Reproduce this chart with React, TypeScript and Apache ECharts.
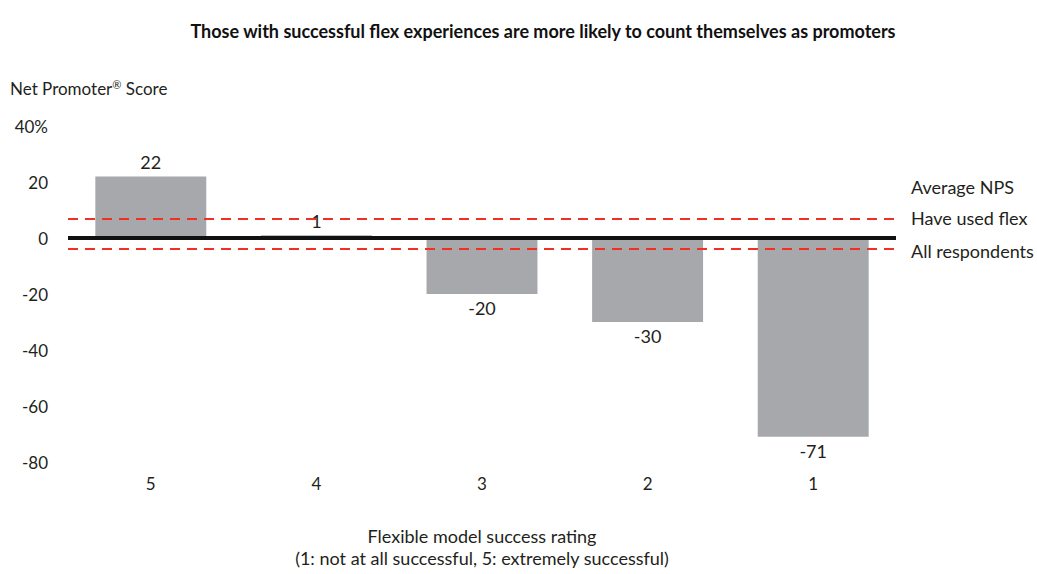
import React, { useEffect, useRef } from "react";
import * as echarts from "echarts";

const categories = ["5", "4", "3", "2", "1"];
const npsValues = [22, 1, -20, -30, -71];
const refLines = [
  { name: "Have used flex", value: 7 },
  { name: "All respondents", value: -4 },
];
const rightLabels = ["Average NPS", "Have used flex", "All respondents"];
const yTicks = { min: -80, max: 40, interval: 20 };

const FONT = "Lato, 'Open Sans', sans-serif";
const TEXT = "#231f20";

export default function App() {
  const ref = useRef<HTMLDivElement>(null);
  useEffect(() => {
    if (!ref.current) return;
    const chart = echarts.init(ref.current, null, { renderer: "svg" });
    chart.setOption({
      animation: false,
      textStyle: { fontFamily: FONT, color: TEXT },
      title: {
        text: "Those with successful flex experiences are more likely to count themselves as promoters",
        left: 538,
        textAlign: "center",
        top: 17,
        textStyle: { fontFamily: FONT, fontWeight: "bold", fontSize: 18, color: "#111" },
      },
      grid: { left: 68, right: 141, top: 126, bottom: 104 },
      xAxis: {
        type: "category",
        data: categories,
        axisLine: { show: false },
        axisTick: { show: false },
        axisLabel: { fontSize: 17, color: TEXT, margin: 13, fontFamily: FONT },
        name: "Flexible model success rating\n(1: not at all successful, 5: extremely successful)",
        nameLocation: "middle",
        nameGap: 63,
        nameTextStyle: { fontSize: 18, color: TEXT, lineHeight: 22, fontFamily: FONT },
      },
      yAxis: {
        type: "value",
        min: yTicks.min,
        max: yTicks.max,
        interval: yTicks.interval,
        splitLine: { show: false },
        axisLine: { show: false },
        axisTick: { show: false },
        axisLabel: {
          fontSize: 17,
          color: TEXT,
          margin: 20,
          fontFamily: FONT,
          formatter: (v: number) => (v === 40 ? "40%" : String(v)),
        },
      },
      graphic: [
        {
          type: "text",
          x: 10,
          y: 88,
          style: {
            text: "Net Promoter{sup|®} Score",
            fontSize: 17,
            fill: TEXT,
            fontFamily: FONT,
            verticalAlign: "middle",
            rich: {
              sup: { fontSize: 11, verticalAlign: "top", padding: [0, 0, 8, 0], fontFamily: FONT, fill: TEXT },
            },
          },
        },
        ...rightLabels.map((t, i) => ({
          type: "text",
          x: 911,
          y: [187, 218, 251][i],
          style: { text: t, fontSize: 18, fill: TEXT, fontFamily: FONT, verticalAlign: "middle" },
        })),
      ],
      series: [
        {
          type: "bar",
          data: npsValues,
          barWidth: "67%",
          itemStyle: { color: "#a7a8ac" },
          label: {
            show: true,
            position: "outside",
            fontSize: 18,
            color: TEXT,
            fontFamily: FONT,
            distance: 5,
          },
          markLine: {
            silent: true,
            symbol: "none",
            label: { show: false },
            data: [
              ...refLines.map((r) => ({
                yAxis: r.value,
                lineStyle: { color: "#ee3124", width: 2, type: [10, 7] },
              })),
              { yAxis: 0, lineStyle: { color: "#111", width: 4, type: "solid" } },
            ],
          },
        },
      ],
    });
    return () => chart.dispose();
  }, []);
  return (
    <div
      ref={ref}
      style={{ position: "absolute", left: 0, top: 0, width: 1037, height: 574 }}
    />
  );
}
